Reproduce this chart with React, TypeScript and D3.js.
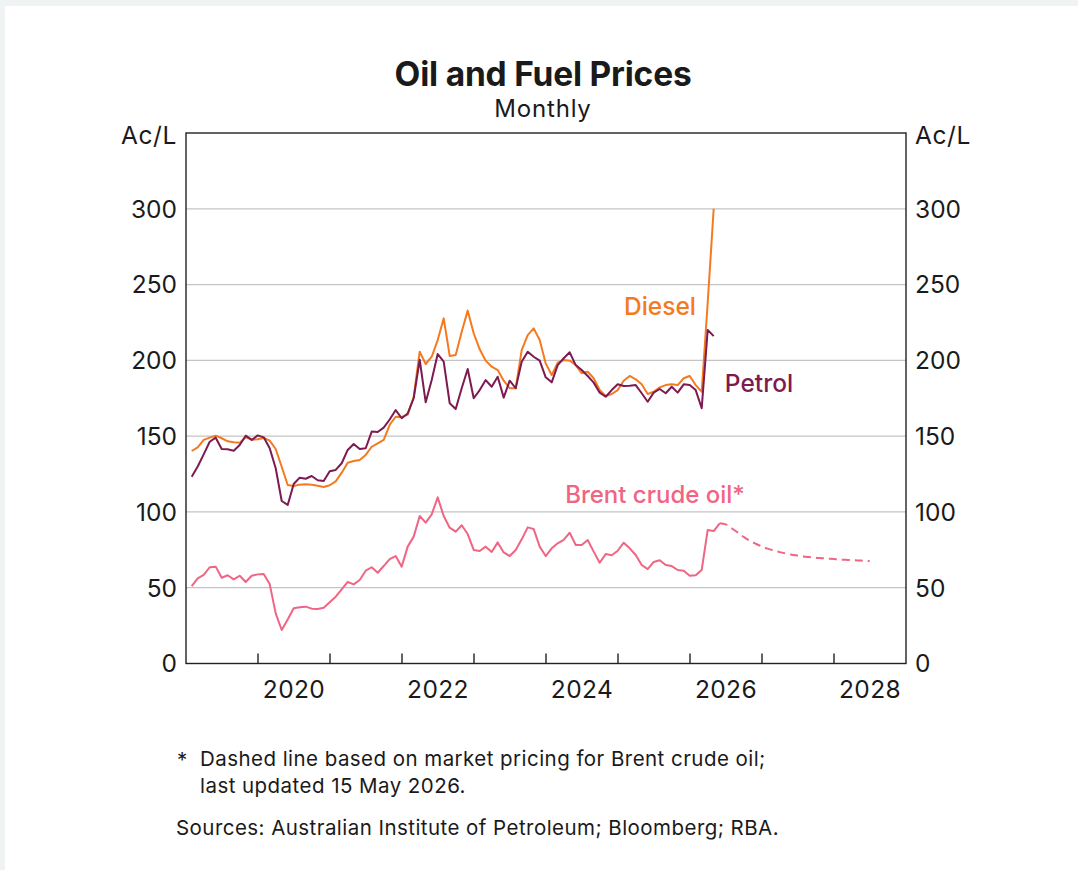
import React from "react";
import * as d3 from "d3";

// ---- Data (A¢/L, monthly from Jan 2019) ----
const startYear = 2019;
const petrol = [
  123.2, 130, 138, 146.3, 149, 141.5, 141.3, 140.4, 144.2, 150.3,
  147.5, 150.5, 149.2, 142, 128.8, 107.2, 104.6, 118.4, 122.6, 121.9,
  123.7, 120.9, 120.4, 126.8, 127.7, 132.1, 140.9, 144.8, 141.5, 142,
  153, 152.7, 155.6, 161, 167.2, 161.8, 165, 175, 200.4, 172.3,
  187, 204.2, 199.1, 171.7, 167.9, 181.6, 194.3, 175, 180.4, 187,
  182.6, 189.2, 175.4, 186.6, 181.6, 199.1, 205.7, 202.4, 199.8, 188.8,
  185.5, 196.9, 201.4, 205.3, 196.9, 193.6, 189.7, 185.3, 178.7, 176,
  180.4, 184.2, 183.1, 183.3, 183.7, 178.3, 172.7, 178.7, 181.1, 178.3,
  182.6, 178.7, 184.2, 183.7, 180.4, 168.4, 220, 216,
];
const diesel = [
  140.2, 142.6, 147.5, 149, 150.3, 148.6, 146.6, 145.9, 145.7, 149.2,
  147.7, 147.9, 148.8, 147, 141.5, 129.8, 117.8, 117.1, 118, 118.2,
  118, 117.3, 116.4, 117.6, 120.2, 125.9, 132.5, 133.6, 134.3, 137.6,
  143, 145.3, 147.5, 157.5, 162.8, 162.7, 164.2, 176, 205.7, 197.6,
  202.4, 213.4, 227.7, 202.9, 203.5, 218.9, 232.8, 217.9, 207.3, 199.8,
  195.8, 193.6, 186.6, 181.6, 181.6, 206.8, 216.7, 221.1, 213.4, 198,
  190.3, 198.5, 200.2, 199.8, 196.9, 191.5, 192.5, 188.2, 180.4, 176.5,
  177.8, 180.4, 186.6, 189.7, 187.5, 184.2, 177.8, 179.3, 182.2, 183.7,
  184.2, 183.7, 188.2, 189.7, 183.7, 179.3, 238, 300,
];
const brent = [
  51.1, 56.2, 58.4, 63.5, 63.9, 56.6, 58.2, 55.5, 57.9, 53.8,
  57.9, 58.8, 59, 52.4, 33.1, 22.1, 29.1, 36.4, 37.1, 37.5,
  36.2, 36, 36.8, 40.4, 44.1, 48.9, 53.8, 52.2, 55.1, 61.2,
  63.5, 59.9, 64.3, 68.9, 70.9, 63.9, 77.1, 83.7, 97.3, 92.9,
  98.4, 109.6, 97.3, 89.6, 87, 91.2, 85.4, 74.9, 74.2, 77.1,
  73.6, 79.9, 73.3, 70.9, 74.9, 81.9, 89.8, 88.7, 77.1, 70.9,
  76, 79.3, 81.5, 86.3, 78.2, 78.2, 81.5, 73.8, 66.5, 72.2,
  71.4, 74.4, 79.7, 76, 71.6, 65, 62.3, 67, 68.1, 65,
  64.3, 61.7, 61.2, 57.9, 58.2, 61.7, 88.1, 87.4, 92.5,
];
// market-pricing path for Brent, starting at the last actual month (index 88)
const brentForecastStart = 88;
const brentForecast = [
  92.5, 91.8, 89.2, 86.5, 83.5, 81, 79, 77.2, 75.8, 74.6,
  73.5, 72.6, 71.8, 71.2, 70.6, 70.2, 69.8, 69.5, 69.2, 68.9,
  68.6, 68.4, 68.2, 68, 67.8, 67.6,
];
const yTicks = [0, 50, 100, 150, 200, 250, 300];
const xLabelYears = [2020, 2022, 2024, 2026, 2028];
const xTickYears = [2020, 2021, 2022, 2023, 2024, 2025, 2026, 2027, 2028];

const W = 1078;
const H = 870;
const FONT = "Inter, 'Noto Sans', sans-serif";
const C_DIESEL = "#f47a20";
const C_PETROL = "#7d1a50";
const C_BRENT = "#ef6583";
const INK = "#1a1a1a";

export default function App() {
  const left = 186, right = 906, top = 133, bottom = 663.5;
  const x = d3.scaleLinear().domain([2019, 2029]).range([left, right]);
  const y = d3.scaleLinear().domain([0, 350]).range([bottom, top]);
  const monthX = (i: number) => x(startYear + (i + 0.95) / 12);

  const line = d3
    .line<number>()
    .x((_, i) => monthX(i))
    .y((d) => y(d));
  const fline = d3
    .line<number>()
    .x((_, i) => monthX(i + brentForecastStart))
    .y((d) => y(d))
    .curve(d3.curveMonotoneX);

  const tickFs = 24.5;

  return (
    <div style={{ position: "absolute", left: 0, top: 0 }}>
      <svg width={W} height={H} style={{ display: "block" }} fontFamily={FONT}>
        <rect x={0} y={0} width={W} height={H} fill="#eff3f4" />
        <rect x={5} y={6} width={W - 5} height={H - 6} fill="#ffffff" />

        <text x={543} y={86} textAnchor="middle" fontSize={33.5} fontWeight={700} fill={INK} letterSpacing={-0.2}>
          Oil and Fuel Prices
        </text>
        <text x={543} y={117} textAnchor="middle" fontSize={24} fill={INK} letterSpacing={0.8}>
          Monthly
        </text>
        <text x={177} y={144} textAnchor="end" fontSize={tickFs} fill={INK} letterSpacing={0.6}>Ac/L</text>
        <text x={915} y={144} textAnchor="start" fontSize={tickFs} fill={INK} letterSpacing={0.6}>Ac/L</text>

        {yTicks.filter((t) => t > 0).map((t) => (
          <line key={"g" + t} x1={left} x2={right} y1={y(t)} y2={y(t)} stroke="#c4c4c4" strokeWidth={1.2} />
        ))}
        {yTicks.map((t) => (
          <g key={"yl" + t} fontSize={tickFs} fill={INK}>
            <text x={177} y={y(t)} dy="0.36em" textAnchor="end">{t}</text>
            <text x={915} y={y(t)} dy="0.36em" textAnchor="start">{t}</text>
          </g>
        ))}

        {xTickYears.map((yr) => (
          <line key={"xt" + yr} x1={x(yr)} x2={x(yr)} y1={bottom} y2={bottom - 10} stroke="#222" strokeWidth={1.4} />
        ))}
        {xLabelYears.map((yr) => (
          <text key={"xl" + yr} x={x(yr + 0.5)} y={698} textAnchor="middle" fontSize={tickFs} fill={INK} letterSpacing={0.4}>{yr}</text>
        ))}

        <path d={line(brent) || ""} fill="none" stroke={C_BRENT} strokeWidth={2} strokeLinejoin="round" />
        <path d={fline(brentForecast) || ""} fill="none" stroke={C_BRENT} strokeWidth={2} strokeDasharray="8 5" />
        <path d={line(diesel) || ""} fill="none" stroke={C_DIESEL} strokeWidth={2} strokeLinejoin="round" />
        <path d={line(petrol) || ""} fill="none" stroke={C_PETROL} strokeWidth={2} strokeLinejoin="round" />

        <rect x={left} y={top} width={right - left} height={bottom - top} fill="none" stroke="#222" strokeWidth={1.4} />

        <text x={660} y={315} textAnchor="middle" fontSize={24.5} fontWeight={500} fill={C_DIESEL}>Diesel</text>
        <text x={759} y={392} textAnchor="middle" fontSize={24.5} fontWeight={500} fill={C_PETROL}>Petrol</text>
        <text x={655} y={503} textAnchor="middle" fontSize={24} fontWeight={500} fill={C_BRENT}>Brent crude oil*</text>

        <g fontSize={20.5} fill={INK} letterSpacing={0.45}>
          <text x={177} y={767}>*</text>
          <text x={200} y={766}>Dashed line based on market pricing for Brent crude oil;</text>
          <text x={200} y={793}>last updated 15 May 2026.</text>
          <text x={176} y={835}>Sources: Australian Institute of Petroleum; Bloomberg; RBA.</text>
        </g>
      </svg>
    </div>
  );
}
